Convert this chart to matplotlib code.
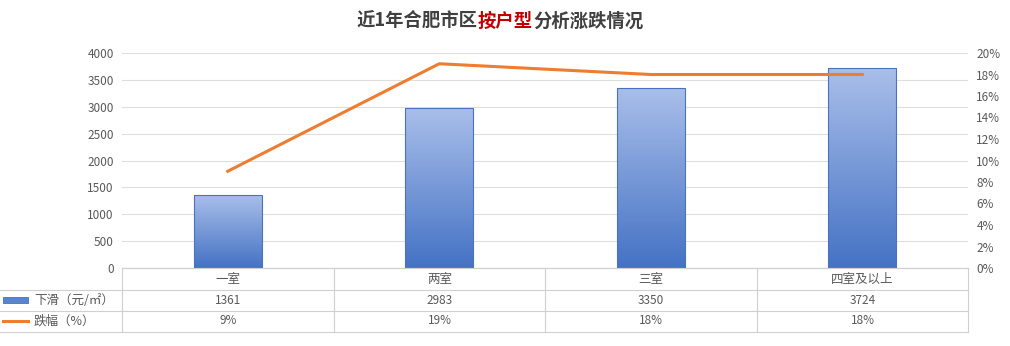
import matplotlib
matplotlib.use('Agg')
import matplotlib.pyplot as plt
import numpy as np
from matplotlib.lines import Line2D
from matplotlib.patches import Rectangle

plt.rcParams['font.family'] = ['Noto Sans CJK SC', 'DejaVu Sans']

# datos
categories = ['一室', '两室', '三室', '四室及以上']
drop_values = [1361, 2983, 3350, 3724]
drop_pct = [9, 19, 18, 18]
series_names = ['下滑（元/㎡）', '跌幅（%）']
pct_labels = ['9%', '19%', '18%', '18%']

W, H = 1010, 346
fig = plt.figure(figsize=(W / 100, H / 100), dpi=100)
ax = fig.add_axes([122 / W, 1 - 268 / H, (968 - 122) / W, (268 - 53) / H])
ax2 = ax.twinx()

x = np.arange(len(categories))
gray = '#595959'

# barras con degradado
bar_w = 0.32
bars = ax.bar(x, drop_values, width=bar_w, color='none', edgecolor='#4a72c0', linewidth=0.8, zorder=3)
grad = np.linspace(0, 1, 256).reshape(-1, 1)
cmap = matplotlib.colors.LinearSegmentedColormap.from_list('g', ['#4472c4', '#aabfea'])
for b in bars:
    x0, y0 = b.get_x(), b.get_y()
    im = ax.imshow(grad, cmap=cmap, origin='lower', aspect='auto',
                   extent=[x0, x0 + b.get_width(), y0, y0 + b.get_height()], zorder=2)
    im.set_clip_path(b)

ax.set_xlim(-0.5, len(categories) - 0.5)
ax.set_ylim(0, 4000)
ax.set_yticks(np.arange(0, 4001, 500))
ax.grid(axis='y', color='#dedede', linewidth=0.8, zorder=0)
ax.set_xticks([])
for s in ['top', 'right', 'left']:
    ax.spines[s].set_visible(False)
ax.spines['bottom'].set_color('#d0d0d0')
ax.tick_params(axis='y', length=0, labelsize=8.5, labelcolor=gray, pad=6)

# línea
ax2.plot(x, drop_pct, color='#ed7d31', linewidth=2.2, zorder=4)
ax2.set_ylim(0, 20)
ax2.set_yticks(np.arange(0, 21, 2))
ax2.set_yticklabels([f'{v}%' for v in range(0, 21, 2)])
ax2.tick_params(axis='y', length=0, labelsize=8.5, labelcolor=gray, pad=6)
for s in ax2.spines.values():
    s.set_visible(False)

# tabla de datos
line_c = '#d0d0d0'
row_y = [268, 290, 311, 332]
cols = [122, 334, 545, 757, 968]
for i, yy in enumerate(row_y):
    x_start = 122 if i == 0 else 0
    fig.add_artist(Line2D([x_start / W, 968 / W], [1 - yy / H] * 2, color=line_c, lw=0.8))
for cx in cols:
    fig.add_artist(Line2D([cx / W] * 2, [1 - 268 / H, 1 - 332 / H], color=line_c, lw=0.8))

for j, cat in enumerate(categories):
    cx = (cols[j] + cols[j + 1]) / 2 / W
    fig.text(cx, 1 - 279 / H, cat, ha='center', va='center', fontsize=9, color=gray)
    fig.text(cx, 1 - 300 / H, str(drop_values[j]), ha='center', va='center', fontsize=8.5, color=gray)
    fig.text(cx, 1 - 321 / H, pct_labels[j], ha='center', va='center', fontsize=8.5, color=gray)

# leyenda en la tabla
fig.add_artist(Rectangle((3 / W, 1 - 303 / H), 25 / W, 6 / H, facecolor='#5b84d0',
                         edgecolor='#4472c4', lw=0.6))
fig.text(34 / W, 1 - 300 / H, series_names[0], ha='left', va='center', fontsize=9, color=gray)
fig.add_artist(Line2D([3 / W, 28 / W], [1 - 321 / H] * 2, color='#ed7d31', lw=2.2))
fig.text(34 / W, 1 - 321 / H, series_names[1], ha='left', va='center', fontsize=9, color=gray)

# título con parte en rojo
parts = [('近1年合肥市区', '#404040'), ('按户型', '#c00000'), ('分析涨跌情况', '#404040')]
renderer = fig.canvas.get_renderer()
texts = []
for s, c in parts:
    t = fig.text(0, 1 - 21 / H, s, ha='left', va='center', fontsize=13.2, fontweight='bold', color=c)
    texts.append(t)
widths = [t.get_window_extent(renderer).width for t in texts]
xpos = 500 - sum(widths) / 2
for t, w in zip(texts, widths):
    t.set_x(xpos / W)
    xpos += w

fig.savefig('out.png', dpi=100)
